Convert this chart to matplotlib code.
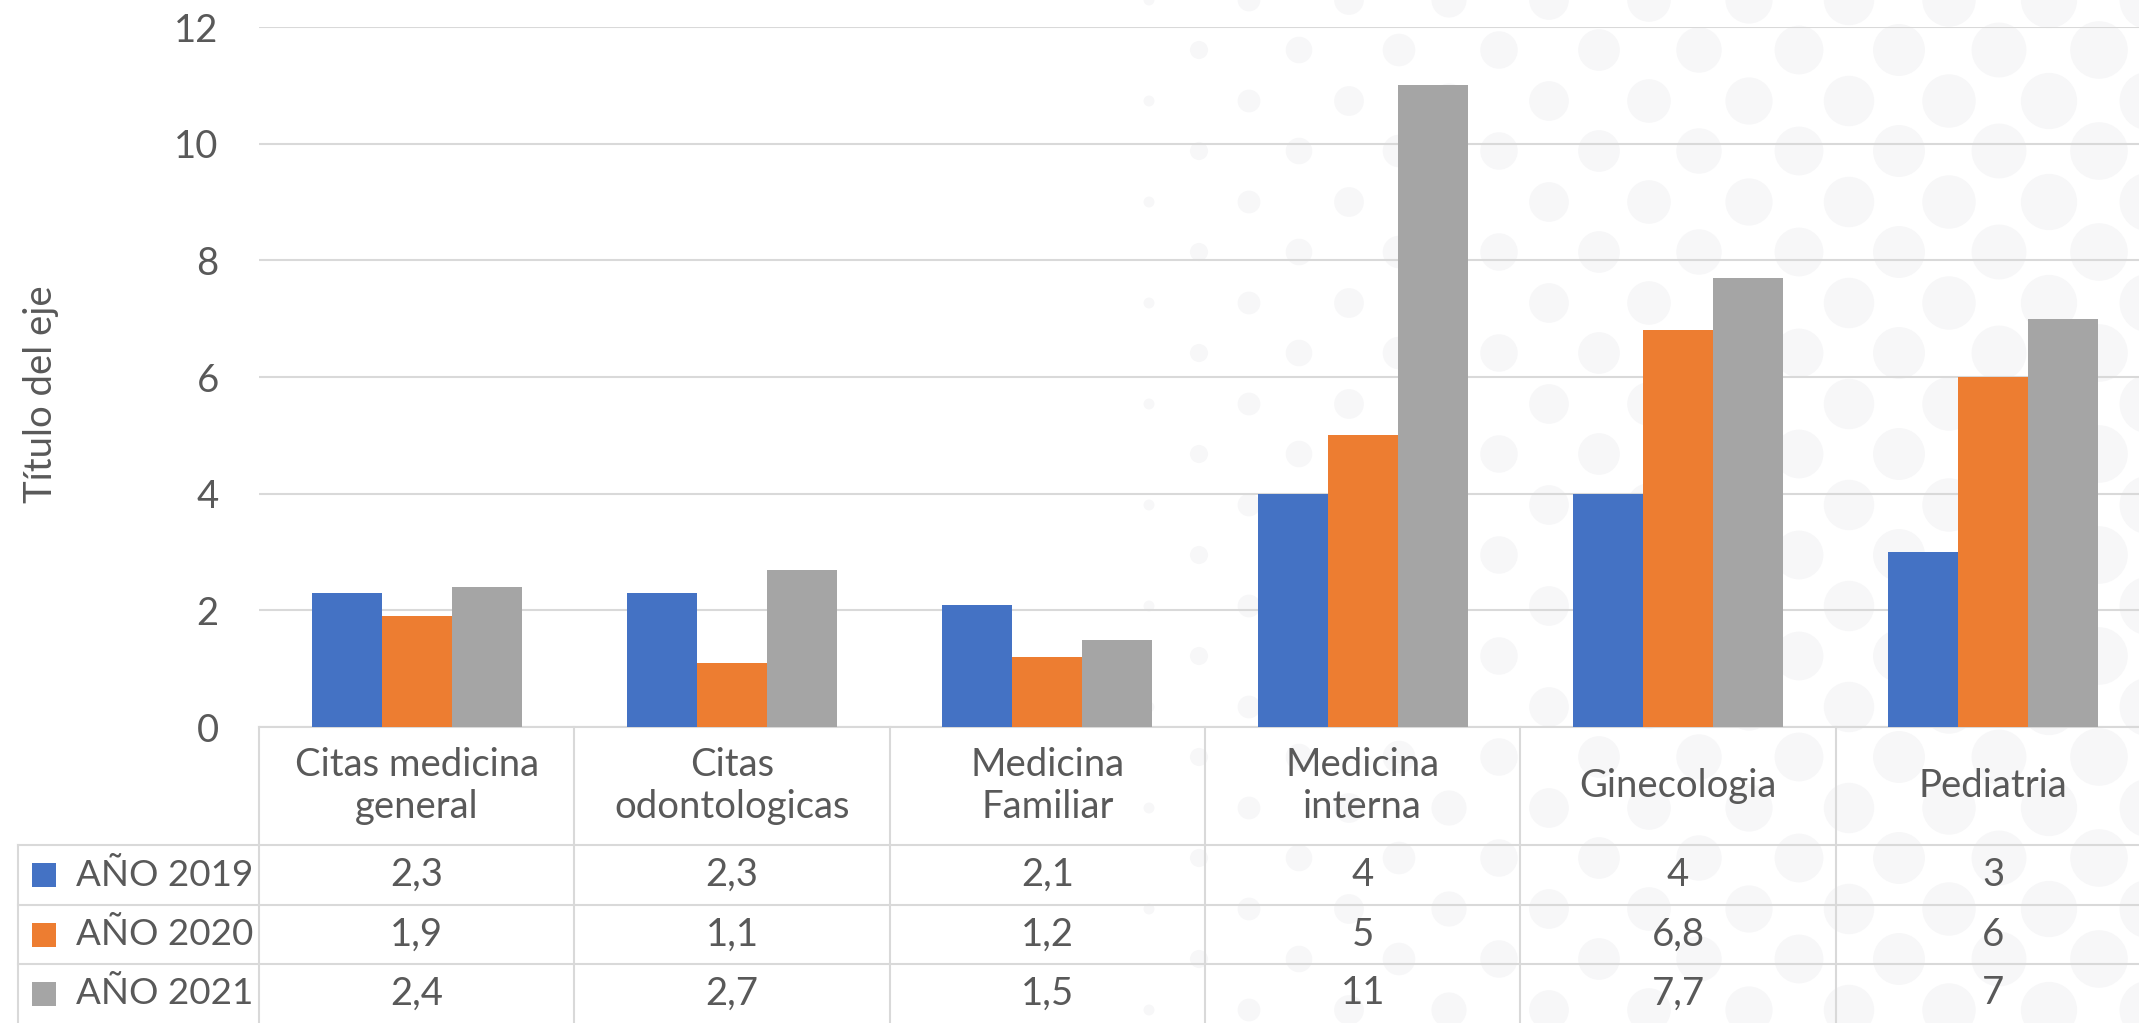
import numpy as np
import matplotlib.pyplot as plt
from matplotlib.patches import Circle, Rectangle

# data
categories = ['Citas medicina\ngeneral', 'Citas\nodontologicas', 'Medicina\nFamiliar',
              'Medicina\ninterna', 'Ginecologia', 'Pediatria']
series_names = ['AÑO 2019', 'AÑO 2020', 'AÑO 2021']
anio_2019 = [2.3, 2.3, 2.1, 4, 4, 3]
anio_2020 = [1.9, 1.1, 1.2, 5, 6.8, 6]
anio_2021 = [2.4, 2.7, 1.5, 11, 7.7, 7]
y_ticks = [0, 2, 4, 6, 8, 10, 12]
colors = ['#4472C4', '#ED7D31', '#A5A5A5']

W, H = 2139, 1023
plt.rcParams['font.family'] = ['Lato', 'DejaVu Sans']
txt = '#595959'
grid_col = '#d9d9d9'
fs = 27.5

fig = plt.figure(figsize=(W / 100, H / 100), dpi=100)
fig.patch.set_facecolor('white')

# plot area in pixels, measured from the top-left corner
left, right, top, base = 259, 2151, 27, 727
ax = fig.add_axes([left / W, 1 - base / H, (right - left) / W, (base - top) / H])
bg = fig.add_axes([0, 0, 1, 1])
bg.set_zorder(0)
ax.set_zorder(1)
bg.set_xlim(0, W)
bg.set_ylim(H, 0)
bg.axis('off')
ax.patch.set_alpha(0)

# faint dotted background pattern
for k, x in enumerate(np.arange(1149, 2200, 50)):
    d = 58 * ((x - 1125) / 990) ** 0.45
    off = 0 if k % 2 == 0 else 50
    for y in np.arange(-101 + off, H + 101, 101):
        bg.add_patch(Circle((x, y), d / 2, facecolor='#f7f7f8', edgecolor='none', zorder=0))

# bars
series = [anio_2019, anio_2020, anio_2021]
x = np.arange(len(categories))
w = 0.222
for i, (vals, c) in enumerate(zip(series, colors)):
    ax.bar(x + (i - 1) * w, vals, w, color=c, zorder=2)

ax.set_xlim(-0.5, len(categories) - 0.5)
ax.set_ylim(0, 12)
ax.set_yticks(y_ticks)
ax.set_xticks([])
ax.set_axisbelow(True)
ax.yaxis.grid(True, color=grid_col, lw=1.5)
for s in ax.spines.values():
    s.set_visible(False)
ax.tick_params(axis='y', length=0, pad=29, labelsize=fs, labelcolor=txt)

# data table below the plot
xs = [ax.transData.transform((i - 0.5, 0))[0] for i in range(len(categories) + 1)]
rows = [727, 845, 905, 964, 1023]
tab_left = 18
lw = 1.5
bg.plot([xs[0], W], [rows[0], rows[0]], color=grid_col, lw=lw, zorder=2)
for y in rows[1:4]:
    bg.plot([tab_left, W], [y, y], color=grid_col, lw=lw, zorder=2)
bg.plot([tab_left, tab_left], [rows[1], H], color=grid_col, lw=lw, zorder=2)
for xe in xs:
    bg.plot([xe, xe], [rows[0], H], color=grid_col, lw=lw, zorder=2)

for j, cat in enumerate(categories):
    cx = (xs[j] + xs[j + 1]) / 2
    bg.text(cx, (rows[0] + rows[1]) / 2, cat, ha='center', va='center',
            fontsize=fs, color=txt, linespacing=1.18, zorder=3)

for i, (name, vals, c) in enumerate(zip(series_names, series, colors)):
    yc = (rows[i + 1] + rows[i + 2]) / 2
    bg.add_patch(Rectangle((32, yc - 12), 24, 24, facecolor=c, edgecolor='none', zorder=3))
    bg.text(76, yc, name, ha='left', va='center', fontsize=26.5, color=txt, zorder=3)
    for j, v in enumerate(vals):
        cx = (xs[j] + xs[j + 1]) / 2
        bg.text(cx, yc, f'{v:g}'.replace('.', ','), ha='center', va='center',
                fontsize=fs, color=txt, zorder=3)

bg.text(41, 394, 'Título del eje', rotation=90, ha='center', va='center',
        fontsize=fs, color=txt)

fig.savefig('out.png', dpi=100)
